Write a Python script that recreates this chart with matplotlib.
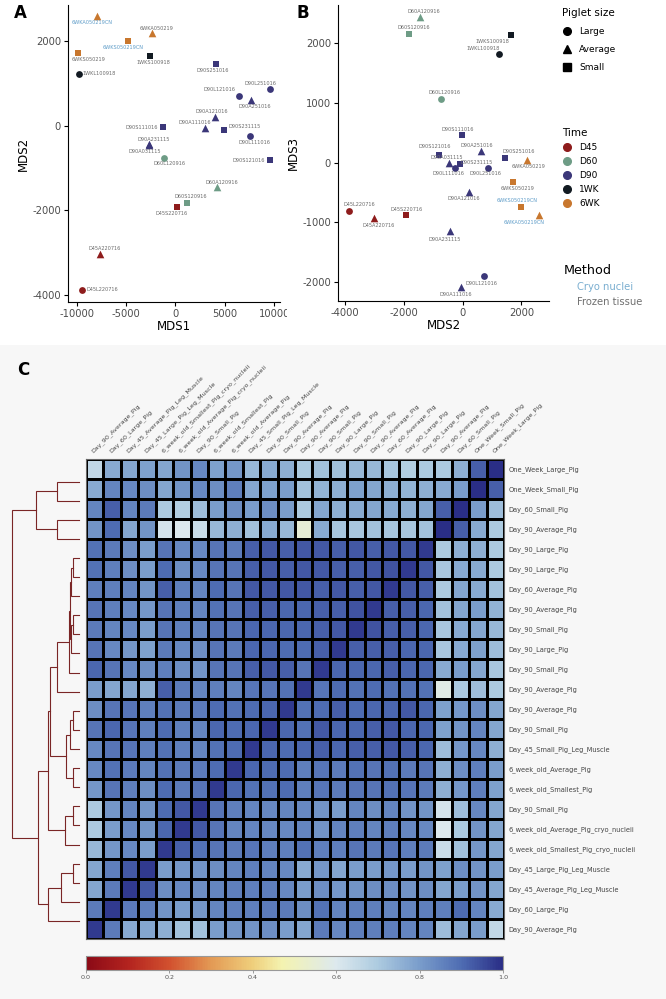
import numpy as np
import matplotlib
matplotlib.use('Agg')
import matplotlib.pyplot as plt
from matplotlib.lines import Line2D
from matplotlib.patches import Rectangle
from matplotlib.colors import LinearSegmentedColormap

plt.rcParams['axes.unicode_minus'] = False
plt.rcParams['font.family'] = 'DejaVu Sans'

W, H = 666, 999

# --- MDS data (panels A and B) ---
samples = ['6WKA050219CN', '6WKA050219', '6WKS050219CN', '6WKS050219', '1WKS100918',
           '1WKL100918', 'D90S251016', 'D90L251016', 'D90L121016', 'D90A251016',
           'D90A121016', 'D90A111016', 'D90S231115', 'D90L111016', 'D90S111016',
           'D90A231115', 'D90A031115', 'D60L120916', 'D90S121016', 'D60A120916',
           'D60S120916', 'D45S220716', 'D45A220716', 'D45L220716']
mds1 = [-7993, -2361, -4823, -9916, -2597, -9815, 4148, 9578, 6476, 7656,
        4047, 2968, 4890, 7521, -1282, -2698, -2650, -1147, 9545, 4216,
        1180, 135, -7622, -9511]
mds2 = [2600, 2180, 1990, 1710, 1640, 1230, 1450, 860, 710, 610,
        210, -47, -100, -252, -28, -437, -456, -752, -818, -1455,
        -1820, -1913, -3025, -3880]
mds3 = [-884, 44, -745, -330, 2136, 1817, 72, -90, -1908, 195,
        -493, -2087, -29, -90, 458, -1153, -7, 1074, 128, 2443,
        2164, -884, -935, -806]
sample_time = ['6WK', '6WK', '6WK', '6WK', '1WK', '1WK', 'D90', 'D90', 'D90', 'D90',
               'D90', 'D90', 'D90', 'D90', 'D90', 'D90', 'D90', 'D60', 'D90', 'D60',
               'D60', 'D45', 'D45', 'D45']
sample_size = ['Average', 'Average', 'Small', 'Small', 'Small', 'Large', 'Small', 'Large',
               'Large', 'Average', 'Average', 'Average', 'Small', 'Large', 'Small',
               'Average', 'Average', 'Large', 'Small', 'Average', 'Small', 'Small',
               'Average', 'Large']

time_levels = ['D45', 'D60', 'D90', '1WK', '6WK']
size_levels = ['Large', 'Average', 'Small']
method_levels = ['Cryo nuclei', 'Frozen tissue']

# --- correlation heatmap (panel C), rows in dendrogram order ---
row_labels = ['One_Week_Large_Pig', 'One_Week_Small_Pig', 'Day_60_Small_Pig',
              'Day_90_Average_Pig', 'Day_90_Large_Pig', 'Day_90_Large_Pig',
              'Day_60_Average_Pig', 'Day_90_Average_Pig', 'Day_90_Small_Pig',
              'Day_90_Large_Pig', 'Day_90_Small_Pig', 'Day_90_Average_Pig',
              'Day_90_Average_Pig', 'Day_90_Small_Pig', 'Day_45_Small_Pig_Leg_Muscle',
              '6_week_old_Average_Pig', '6_week_old_Smallest_Pig', 'Day_90_Small_Pig',
              '6_week_old_Average_Pig_cryo_nucleii', '6_week_old_Smallest_Pig_cryo_nucleii',
              'Day_45_Large_Pig_Leg_Muscle', 'Day_45_Average_Pig_Leg_Muscle',
              'Day_60_Large_Pig', 'Day_90_Average_Pig']
col_labels = row_labels[::-1]

corr = [
    [0.66, 0.77, 0.78, 0.79, 0.78, 0.82, 0.84, 0.79, 0.81, 0.74, 0.77, 0.76, 0.70, 0.72, 0.72, 0.74, 0.74, 0.71, 0.69, 0.70, 0.70, 0.76, 0.92, 1.00],
    [0.77, 0.85, 0.84, 0.83, 0.78, 0.82, 0.84, 0.83, 0.86, 0.78, 0.79, 0.80, 0.72, 0.75, 0.76, 0.79, 0.78, 0.76, 0.75, 0.76, 0.77, 0.80, 1.00, 0.92],
    [0.85, 0.92, 0.85, 0.87, 0.70, 0.69, 0.73, 0.80, 0.83, 0.80, 0.83, 0.80, 0.70, 0.78, 0.76, 0.77, 0.78, 0.77, 0.76, 0.78, 0.92, 1.00, 0.80, 0.73],
    [0.82, 0.90, 0.78, 0.82, 0.62, 0.60, 0.64, 0.74, 0.76, 0.72, 0.77, 0.74, 0.55, 0.77, 0.71, 0.71, 0.72, 0.71, 0.71, 0.72, 1.00, 0.92, 0.77, 0.70],
    [0.89, 0.87, 0.83, 0.80, 0.88, 0.84, 0.84, 0.88, 0.87, 0.92, 0.93, 0.92, 0.93, 0.93, 0.92, 0.93, 0.92, 0.93, 0.93, 0.98, 0.70, 0.76, 0.76, 0.70],
    [0.89, 0.86, 0.83, 0.80, 0.90, 0.83, 0.84, 0.88, 0.88, 0.92, 0.93, 0.92, 0.93, 0.93, 0.92, 0.92, 0.93, 0.94, 0.98, 0.93, 0.71, 0.77, 0.77, 0.70],
    [0.86, 0.86, 0.85, 0.82, 0.92, 0.86, 0.85, 0.90, 0.88, 0.93, 0.93, 0.93, 0.93, 0.92, 0.93, 0.92, 0.93, 0.98, 0.93, 0.92, 0.70, 0.78, 0.77, 0.72],
    [0.88, 0.86, 0.84, 0.81, 0.88, 0.86, 0.85, 0.89, 0.88, 0.92, 0.92, 0.91, 0.91, 0.92, 0.92, 0.94, 0.98, 0.92, 0.92, 0.91, 0.72, 0.78, 0.80, 0.75],
    [0.87, 0.85, 0.84, 0.80, 0.88, 0.86, 0.85, 0.88, 0.88, 0.91, 0.91, 0.91, 0.91, 0.92, 0.93, 0.98, 0.94, 0.92, 0.92, 0.91, 0.71, 0.77, 0.78, 0.74],
    [0.88, 0.84, 0.81, 0.79, 0.87, 0.84, 0.83, 0.88, 0.87, 0.91, 0.91, 0.90, 0.90, 0.92, 0.98, 0.92, 0.92, 0.92, 0.91, 0.91, 0.71, 0.77, 0.79, 0.73],
    [0.91, 0.88, 0.84, 0.83, 0.86, 0.83, 0.82, 0.88, 0.88, 0.92, 0.93, 0.92, 0.88, 0.98, 0.91, 0.91, 0.91, 0.92, 0.91, 0.91, 0.77, 0.80, 0.78, 0.71],
    [0.80, 0.78, 0.78, 0.76, 0.92, 0.87, 0.85, 0.86, 0.85, 0.88, 0.88, 0.89, 0.98, 0.88, 0.90, 0.89, 0.90, 0.89, 0.89, 0.89, 0.58, 0.70, 0.73, 0.70],
    [0.83, 0.88, 0.88, 0.86, 0.89, 0.87, 0.87, 0.90, 0.89, 0.90, 0.91, 0.98, 0.89, 0.90, 0.92, 0.90, 0.91, 0.91, 0.93, 0.91, 0.79, 0.81, 0.83, 0.78],
    [0.88, 0.91, 0.88, 0.86, 0.90, 0.86, 0.85, 0.91, 0.90, 0.91, 0.98, 0.91, 0.89, 0.93, 0.91, 0.91, 0.92, 0.93, 0.91, 0.91, 0.79, 0.82, 0.85, 0.78],
    [0.84, 0.88, 0.88, 0.86, 0.89, 0.86, 0.85, 0.89, 0.90, 0.98, 0.91, 0.90, 0.91, 0.92, 0.91, 0.92, 0.92, 0.93, 0.92, 0.91, 0.73, 0.81, 0.84, 0.76],
    [0.84, 0.89, 0.87, 0.85, 0.89, 0.87, 0.87, 0.90, 0.98, 0.91, 0.90, 0.90, 0.86, 0.88, 0.87, 0.89, 0.88, 0.89, 0.87, 0.88, 0.76, 0.83, 0.86, 0.80],
    [0.81, 0.88, 0.86, 0.83, 0.90, 0.87, 0.88, 0.98, 0.91, 0.89, 0.89, 0.90, 0.86, 0.88, 0.87, 0.88, 0.88, 0.89, 0.88, 0.87, 0.76, 0.81, 0.86, 0.79],
    [0.70, 0.81, 0.85, 0.82, 0.90, 0.93, 0.98, 0.88, 0.86, 0.85, 0.84, 0.85, 0.84, 0.82, 0.80, 0.85, 0.83, 0.85, 0.82, 0.82, 0.62, 0.73, 0.84, 0.78],
    [0.70, 0.80, 0.84, 0.82, 0.91, 0.98, 0.93, 0.88, 0.85, 0.85, 0.84, 0.84, 0.85, 0.82, 0.85, 0.86, 0.85, 0.86, 0.84, 0.84, 0.60, 0.70, 0.82, 0.78],
    [0.74, 0.81, 0.84, 0.80, 0.98, 0.92, 0.89, 0.88, 0.87, 0.88, 0.86, 0.86, 0.89, 0.86, 0.86, 0.88, 0.87, 0.88, 0.86, 0.87, 0.64, 0.72, 0.81, 0.78],
    [0.78, 0.86, 0.93, 0.98, 0.80, 0.81, 0.82, 0.83, 0.85, 0.86, 0.85, 0.84, 0.77, 0.81, 0.78, 0.80, 0.80, 0.81, 0.80, 0.82, 0.79, 0.83, 0.82, 0.80],
    [0.78, 0.87, 0.98, 0.93, 0.83, 0.84, 0.83, 0.85, 0.86, 0.86, 0.86, 0.84, 0.80, 0.83, 0.81, 0.82, 0.83, 0.83, 0.82, 0.83, 0.78, 0.80, 0.82, 0.78],
    [0.87, 0.98, 0.87, 0.86, 0.82, 0.80, 0.81, 0.85, 0.86, 0.86, 0.87, 0.87, 0.83, 0.89, 0.85, 0.86, 0.86, 0.85, 0.85, 0.86, 0.86, 0.90, 0.85, 0.77],
    [0.98, 0.87, 0.77, 0.78, 0.76, 0.72, 0.72, 0.80, 0.82, 0.82, 0.83, 0.80, 0.78, 0.87, 0.84, 0.86, 0.86, 0.86, 0.85, 0.85, 0.73, 0.78, 0.80, 0.66],
]

# dendrogram merges (left id, right id, height); ids >= 24 are earlier merges
merges = [
    (0, 1, 0.33), (2, 3, 0.32), (24, 25, 0.64),
    (4, 5, 0.076), (27, 6, 0.11), (7, 8, 0.076), (29, 9, 0.11),
    (28, 30, 0.126), (31, 10, 0.15), (32, 11, 0.32),
    (12, 13, 0.076), (34, 14, 0.126), (15, 16, 0.076), (35, 36, 0.19),
    (33, 37, 0.43), (17, 18, 0.076), (39, 19, 0.21), (38, 40, 0.455),
    (20, 21, 0.085), (42, 22, 0.27), (43, 23, 0.455),
    (41, 44, 0.606), (26, 45, 1.0),
]

time_colors = {'D45': '#8e1c1c', 'D60': '#6e9c86', 'D90': '#3b3779',
               '1WK': '#121a22', '6WK': '#c8772e'}
size_markers = {'Large': 'o', 'Average': '^', 'Small': 's'}
size_area = {'Large': 24, 'Average': 30, 'Small': 24}
cn_color = '#5e9cc8'
ft_color = '#6b6b6b'

heat_cmap = LinearSegmentedColormap.from_list('heat', [
    (0.0, '#8b0a16'), (0.1, '#b3231f'), (0.2, '#d2512f'), (0.3, '#e39a55'),
    (0.4, '#efcf7c'), (0.47, '#f4f3b0'), (0.6, '#dde9ee'), (0.7, '#adcbe0'),
    (0.8, '#7a9dcb'), (0.9, '#4f6db3'), (1.0, '#2a2e86')])

# label nudges in pixels (dx, dy)
nudge_a = {'6WKA050219CN': (-4, -7), '6WKA050219': (4, 5), '6WKS050219CN': (-5, -6),
           '6WKS050219': (11, -6), '1WKS100918': (4, -6), '1WKL100918': (21, 0),
           'D90S251016': (-4, -6), 'D90L251016': (-10, 6), 'D90L121016': (-20, 6),
           'D90A251016': (4, -7), 'D90A121016': (-4, 5), 'D90A111016': (-10, 5),
           'D90S231115': (21, 3), 'D90L111016': (5, -6), 'D90S111016': (-21, -1),
           'D90A231115': (5, 5), 'D90A031115': (-5, -7), 'D60L120916': (5, -6),
           'D90S121016': (-21, 0), 'D60A120916': (5, 5), 'D60S120916': (4, 6),
           'D45S220716': (-5, -7), 'D45A220716': (5, 5), 'D45L220716': (21, 0)}
nudge_b = {'6WKA050219CN': (-15, -7), '6WKA050219': (2, -7), '6WKS050219CN': (-4, 6),
           '6WKS050219': (5, -6), '1WKS100918': (-18, -6), '1WKL100918': (-16, 6),
           'D90S251016': (13, 7), 'D90L251016': (-2, -6), 'D90L121016': (-2, -7),
           'D90A251016': (-4, 5), 'D90A121016': (-5, -7), 'D90A111016': (-5, -8),
           'D90S231115': (17, 2), 'D90L111016': (-7, -6), 'D90S111016': (-4, 6),
           'D90A231115': (-5, -8), 'D90A031115': (-3, 5), 'D60L120916': (4, 6),
           'D90S121016': (-4, 8), 'D60A120916': (4, 5), 'D60S120916': (5, 6),
           'D45S220716': (0, 6), 'D45A220716': (5, -7), 'D45L220716': (11, 6)}


def box(l, t, r, b):
    return [l / W, 1 - b / H, (r - l) / W, (b - t) / H]


def mds_panel(ax, xs, ys, nudges, xlabel, ylabel):
    for name, x, y, t, s in zip(samples, xs, ys, sample_time, sample_size):
        ax.scatter(x, y, marker=size_markers[s], s=size_area[s], color=time_colors[t],
                   linewidths=0, zorder=3)
        dx, dy = nudges[name]
        ax.annotate(name, (x, y), xytext=(dx, dy), textcoords='offset pixels',
                    ha='center', va='center', fontsize=3.6,
                    color=cn_color if name.endswith('CN') else ft_color, zorder=4)
    for side in ['top', 'right']:
        ax.spines[side].set_visible(False)
    for side in ['left', 'bottom']:
        ax.spines[side].set_linewidth(0.8)
    ax.tick_params(labelsize=7.2, labelcolor='#4d4d4d', length=3, width=0.8, pad=2)
    ax.set_xlabel(xlabel, fontsize=8.5, labelpad=1)
    ax.set_ylabel(ylabel, fontsize=8.5, labelpad=2)


fig = plt.figure(figsize=(W / 100, H / 100), dpi=100)

# panel C background
fig.patches.append(Rectangle((0, 0), 1, (H - 345) / H, transform=fig.transFigure,
                             facecolor='#f7f7f7', edgecolor='none', zorder=-1))

axA = fig.add_axes(box(68, 5, 280, 302), zorder=0)
mds_panel(axA, mds1, mds2, nudge_a, 'MDS1', 'MDS2')
axA.set_xlim(-10880, 10580)
axA.set_ylim(-4165, 2850)
axA.set_xticks([-10000, -5000, 0, 5000, 10000])
axA.set_yticks([-4000, -2000, 0, 2000])

axB = fig.add_axes(box(338, 5, 549, 301), zorder=2)
mds_panel(axB, mds2, mds3, nudge_b, 'MDS2', 'MDS3')
axB.set_xlim(-4238, 2935)
axB.set_ylim(-2324, 2643)
axB.set_xticks([-4000, -2000, 0, 2000])
axB.set_yticks([-2000, -1000, 0, 1000, 2000])

# panel B covers the end of A's last tick label
fig.patches.append(Rectangle((287 / W, 1 - 326 / H), 14 / W, 22 / H, transform=fig.transFigure,
                             facecolor='white', edgecolor='none', zorder=1))

fig.text(14 / W, 1 - 13 / H, 'A', fontsize=12, fontweight='bold', va='center')
fig.text(296 / W, 1 - 13 / H, 'B', fontsize=12, fontweight='bold', va='center')
fig.text(17 / W, 1 - 370 / H, 'C', fontsize=12, fontweight='bold', va='center')

# legends
size_handles = [Line2D([], [], linestyle='none', marker=size_markers[s], color='black',
                       markersize=5.5 if s != 'Average' else 6.2) for s in size_levels]
leg1 = fig.legend(size_handles, size_levels, title='Piglet size', loc='upper left',
                  bbox_to_anchor=(562 / W, 1 - 8 / H), frameon=False, fontsize=6.5,
                  title_fontsize=7.5, labelspacing=1.0, handlelength=1.0,
                  handletextpad=0.9, borderpad=0, borderaxespad=0)
leg1._legend_box.align = 'left'

time_handles = [Line2D([], [], linestyle='none', marker='o', color=time_colors[t],
                       markersize=5.5) for t in time_levels]
leg2 = fig.legend(time_handles, time_levels, title='Time', loc='upper left',
                  bbox_to_anchor=(562 / W, 1 - 128 / H), frameon=False, fontsize=6.5,
                  title_fontsize=7.5, labelspacing=0.55, handlelength=1.0,
                  handletextpad=0.9, borderpad=0, borderaxespad=0)
leg2._legend_box.align = 'left'

method_handles = [Line2D([], [], linestyle='none') for m in method_levels]
leg3 = fig.legend(method_handles, method_levels, title='Method', loc='upper left',
                  bbox_to_anchor=(564 / W, 1 - 264 / H), frameon=False, fontsize=7.2,
                  title_fontsize=9.2, labelspacing=0.5, handlelength=0.9,
                  handletextpad=0.4, borderpad=0, borderaxespad=0,
                  labelcolor=['#7aaed0', '#707070'])
leg3._legend_box.align = 'left'

# dendrogram
axD = fig.add_axes(box(12, 472, 78.5, 930.5))
pos = {i: (float(i), 0.0) for i in range(len(row_labels))}
for k, (a, b, h) in enumerate(merges):
    ya, ha_ = pos[a]
    yb, hb = pos[b]
    axD.plot([ha_, h, h, hb], [ya, ya, yb, yb], color='#7a2626', lw=0.8,
             clip_on=False, solid_joinstyle='miter')
    pos[len(row_labels) + k] = ((ya + yb) / 2, h)
axD.set_xlim(1.0, 0.0)
axD.set_ylim(len(row_labels) - 0.5, -0.5)
axD.axis('off')

# heatmap
axH = fig.add_axes(box(86, 459, 504, 939))
mesh = axH.pcolormesh(np.array(corr), cmap=heat_cmap, vmin=0, vmax=1,
                      edgecolors='black', linewidth=1.0)
axH.set_xlim(0, len(col_labels))
axH.set_ylim(len(row_labels), 0)
axH.xaxis.tick_top()
axH.set_xticks(np.arange(len(col_labels)) + 0.5)
axH.set_xticklabels(col_labels, rotation=45, ha='left', va='bottom',
                    rotation_mode='anchor', fontsize=4.6, color='#444444')
axH.yaxis.tick_right()
axH.set_yticks(np.arange(len(row_labels)) + 0.5)
axH.set_yticklabels(row_labels, fontsize=4.8, color='#444444')
axH.tick_params(length=0, pad=3.5)
for sp in axH.spines.values():
    sp.set_color('#666666')
    sp.set_linewidth(0.8)

# colorbar
axC = fig.add_axes(box(86, 955.5, 503, 970))
cb = fig.colorbar(mesh, cax=axC, orientation='horizontal')
cb.set_ticks([0.0, 0.2, 0.4, 0.6, 0.8, 1.0])
cb.ax.tick_params(labelsize=4.6, labelcolor='#555555', length=2, width=0.5,
                  color='#777777', pad=1.5)
cb.outline.set_edgecolor('#999999')
cb.outline.set_linewidth(0.8)

fig.savefig('out.png', dpi=100)
